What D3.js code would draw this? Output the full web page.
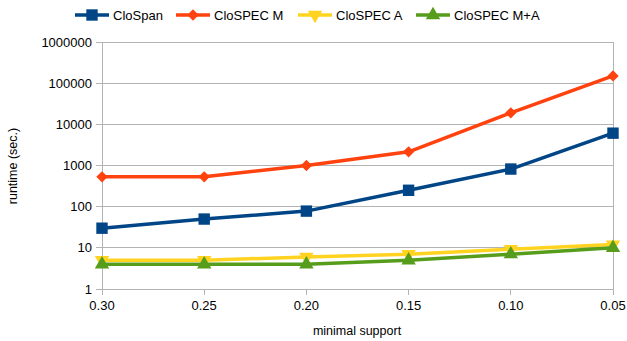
<!DOCTYPE html>
<html>
<head>
<meta charset="utf-8">
<script src="https://cdn.jsdelivr.net/npm/d3@7"></script>
<style>
  body { margin: 0; background: #fff; }
  text { font-family: "Liberation Sans", Arial, sans-serif; fill: #000; }
</style>
</head>
<body>
<svg id="chart" width="627" height="341"></svg>
<script>
const supports = ['0.30', '0.25', '0.20', '0.15', '0.10', '0.05']
const cloSpan = [30, 50, 78, 250, 820, 6100]
const cloSpecM = [530, 530, 1000, 2150, 19000, 150000]
const cloSpecA = [5, 5, 6, 7, 9.3, 12]
const cloSpecMA = [4, 4, 4, 5, 7, 10]
const yTicks = [1, 10, 100, 1000, 10000, 100000, 1000000]

const series = [
  { name: 'CloSpan', values: cloSpan, color: '#004586', symbol: d3.symbolSquare, size: 130, rot: 0 },
  { name: 'CloSPEC M', values: cloSpecM, color: '#ff420e', symbol: d3.symbolSquare, size: 64, rot: 45 },
  { name: 'CloSPEC A', values: cloSpecA, color: '#ffd320', symbol: d3.symbolTriangle, size: 90, rot: 180 },
  { name: 'CloSPEC M+A', values: cloSpecMA, color: '#579d1c', symbol: d3.symbolTriangle, size: 90, rot: 0 }
]

const svg = d3.select('#chart')
const plotL = 102, plotR = 613, plotT = 42, plotB = 289

const x = d3.scalePoint().domain(supports).range([plotL, plotR])
const y = d3.scaleLog().domain([1, 1000000]).range([plotB, plotT])

// grid
svg.append('g').selectAll('line').data(yTicks).join('line')
  .attr('x1', plotL - 6).attr('x2', plotR)
  .attr('y1', d => y(d)).attr('y2', d => y(d))
  .attr('stroke', '#b3b3b3').attr('stroke-width', 1)
  .attr('shape-rendering', 'crispEdges')

svg.append('line').attr('x1', plotL).attr('x2', plotL).attr('y1', plotT).attr('y2', plotB + 6)
  .attr('stroke', '#b3b3b3').attr('shape-rendering', 'crispEdges')
svg.append('line').attr('x1', plotR).attr('x2', plotR).attr('y1', plotT).attr('y2', plotB + 6)
  .attr('stroke', '#b3b3b3').attr('shape-rendering', 'crispEdges')

// x ticks
svg.append('g').selectAll('line').data(supports).join('line')
  .attr('x1', d => x(d)).attr('x2', d => x(d))
  .attr('y1', plotB).attr('y2', plotB + 6)
  .attr('stroke', '#b3b3b3').attr('shape-rendering', 'crispEdges')

svg.append('g').selectAll('text').data(supports).join('text')
  .attr('x', d => x(d)).attr('y', 310)
  .attr('text-anchor', 'middle').attr('font-size', 13)
  .text(d => d)

svg.append('g').selectAll('text').data(yTicks).join('text')
  .attr('x', 92).attr('y', d => y(d) + 4.5)
  .attr('text-anchor', 'end').attr('font-size', 13)
  .text(d => d)

// axis titles
svg.append('text').attr('x', 357).attr('y', 335)
  .attr('text-anchor', 'middle').attr('font-size', 12.5).text('minimal support')
svg.append('text').attr('transform', 'translate(17,166) rotate(-90)')
  .attr('text-anchor', 'middle').attr('font-size', 12.5).text('runtime (sec.)')

// lines
const line = d3.line().x((d, i) => x(supports[i])).y(d => y(d))

series.forEach(s => {
  svg.append('path').datum(s.values)
    .attr('d', line).attr('fill', 'none')
    .attr('stroke', s.color).attr('stroke-width', 3.5)
    .attr('stroke-linejoin', 'round')
  svg.append('g').selectAll('path').data(s.values).join('path')
    .attr('d', d3.symbol().type(s.symbol).size(s.size))
    .attr('transform', (d, i) => `translate(${x(supports[i])},${y(d)}) rotate(${s.rot})`)
    .attr('fill', s.color)
})

// legend
const legendX = [75, 176, 298, 416]
series.forEach((s, i) => {
  const g = svg.append('g').attr('transform', `translate(${legendX[i]},15)`)
  g.append('line').attr('x1', 0).attr('x2', 34).attr('y1', 0).attr('y2', 0)
    .attr('stroke', s.color).attr('stroke-width', 3.5)
  g.append('path').attr('d', d3.symbol().type(s.symbol).size(s.size))
    .attr('transform', `translate(17,0) rotate(${s.rot})`).attr('fill', s.color)
  g.append('text').attr('x', 38).attr('y', 5).attr('font-size', 13).text(s.name)
})
</script>
</body>
</html>
